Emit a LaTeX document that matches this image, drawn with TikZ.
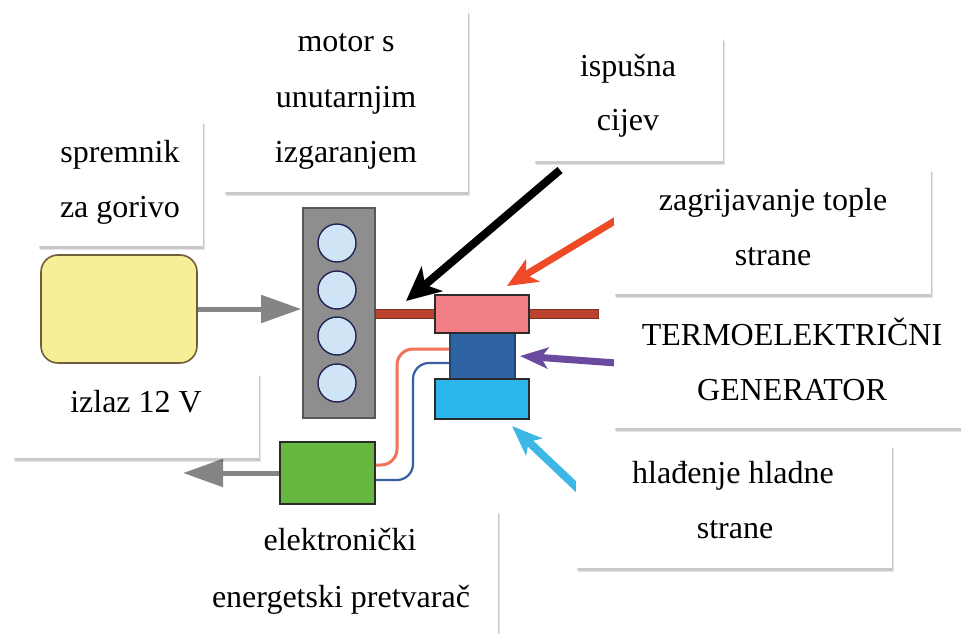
\documentclass[tikz,border=0pt]{standalone}
\usepackage{fontspec}
\setmainfont{Liberation Serif}
\newfontfamily\lblfont{Liberation Serif}
\usetikzlibrary{arrows.meta}
\definecolor{tankfill}{HTML}{F8EE98}
\definecolor{tankline}{HTML}{6E5E3A}
\definecolor{enginefill}{HTML}{8E8E8E}
\definecolor{cylfill}{HTML}{CFE5F5}
\definecolor{pipecol}{HTML}{B9432F}
\definecolor{hotfill}{HTML}{F17F85}
\definecolor{tegfill}{HTML}{2E63A2}
\definecolor{coldfill}{HTML}{2BB6EC}
\definecolor{convfill}{HTML}{67B83F}
\definecolor{flowgray}{HTML}{858585}
\definecolor{heatred}{HTML}{EF4A25}
\definecolor{tegpurple}{HTML}{6A4A9E}
\definecolor{coolblue}{HTML}{3DB7E6}
\definecolor{wirered}{HTML}{F0735A}
\definecolor{wireblue}{HTML}{3A5EA3}
\definecolor{outline}{HTML}{2B2B2B}
\tikzset{
  part/.style={rectangle, draw=outline, line width=1.6pt, inner sep=0pt},
  lbox/.style={rectangle, fill=white, draw=none, inner sep=0pt,
    preaction={fill=black, opacity=0.10, transform canvas={xshift=1.5pt,yshift=-4pt}},
    preaction={fill=black, opacity=0.12, transform canvas={xshift=1pt,yshift=-2.5pt}}},
  lbl/.style={anchor=base, inner sep=0pt, font=\lblfont\fontsize{32}{38}\selectfont},
}
\begin{document}
\begin{tikzpicture}[x=1pt,y=-1pt]
\useasboundingbox (0,0) rectangle (961,634);
\fill[white] (0,0) rectangle (961,634);
% ---- diagram parts
\node[part, fill=tankfill, draw=tankline, rounded corners=17pt, minimum width=156pt, minimum height=108pt] (tank) at (119,309) {};
\node[part, fill=enginefill, draw=black!65, minimum width=72pt, minimum height=210pt] (engine) at (339,313) {};
\foreach \i/\yy in {1/243,2/290,3/336,4/383}
  \node[circle, draw=outline!80!blue, line width=1.4pt, fill=cylfill, minimum size=38pt, inner sep=0pt] (cyl\i) at (337,\yy) {};
\node[part, fill=pipecol, draw=pipecol!70!black, line width=1pt, minimum width=223pt, minimum height=9pt] (pipe) at (486.5,313.5) {};
\node[part, fill=tegfill, draw=tegfill!70!black, minimum width=65pt, minimum height=46pt] (teg) at (482.5,356) {};
\node[part, fill=hotfill, minimum width=94pt, minimum height=38pt] (hot) at (482,314) {};
\node[part, fill=coldfill, minimum width=94pt, minimum height=40pt] (cold) at (482,399) {};
\node[part, fill=convfill, minimum width=95pt, minimum height=62pt] (conv) at (327.5,473) {};
% ---- wires
\draw[wirered, line width=3pt, rounded corners=16pt] ([yshift=7pt]teg.west) -- (397,349) -- (397,465) -- ([yshift=8pt]conv.east);
\draw[wireblue, line width=2.2pt, rounded corners=16pt] ([yshift=-7pt]teg.west) -- (413,363) -- (413,480) -- ([yshift=-7pt]conv.east);
% ---- flow arrows
\coordinate (outtip) at (183,473);
\draw[flowgray, line width=5pt, -{Triangle[length=40pt,width=27pt]}] (tank.east) -- ([xshift=-1pt]tank.east -| engine.west);
\draw[flowgray, line width=5pt, -{Triangle[length=40pt,width=27pt]}] (conv.west) -- (outtip);
\coordinate (exhtail) at (560,170);
\coordinate (exhtip) at (406,301);
\draw[black, line width=8pt, -{Stealth[length=34pt,width=32pt,inset=9pt]}] (exhtail) -- (exhtip);
\coordinate (hottail) at (618,219);
\coordinate (hottip) at (507,286);
\draw[heatred, line width=7pt, -{Stealth[length=30pt,width=26pt,inset=8pt]}] (hottail) -- (hottip);
\coordinate (tegtail) at (630,364);
\coordinate (tegtip) at (520,356);
\draw[tegpurple, line width=7pt, -{Stealth[length=28pt,width=21pt,inset=7pt]}] (tegtail) -- (tegtip);
\coordinate (coldtail) at (590,500);
\coordinate (coldtip) at (512,426);
\draw[coolblue, line width=8pt, -{Stealth[length=30pt,width=23pt,inset=7pt]}] (coldtail) -- (coldtip);
% ---- label boxes
\node[lbox, minimum width=165pt, minimum height=126pt] (tankL) at (120.5,183) {};
\node[lbox, minimum width=244pt, minimum height=182pt] (motorL) at (346,101) {};
\node[lbox, minimum width=189pt, minimum height=124pt] (exhL) at (628.5,99) {};
\node[lbox, minimum width=317pt, minimum height=126pt] (hotL) at (772.5,231) {};
\node[lbox, minimum width=349pt, minimum height=125pt] (tegL) at (788.5,365.5) {};
\node[lbox, minimum width=316pt, minimum height=124pt] (coldL) at (734,506) {};
\node[lbox, minimum width=246pt, minimum height=86pt] (outL) at (136,415) {};
\node[lbox, minimum width=316pt, minimum height=130pt] (convL) at (340,575) {};
% ---- texts
\node[lbl] (t1a) at (120,162) {spremnik};
\node[lbl] (t1b) at (120,217) {za gorivo};
\node[lbl] (t2a) at (346,52) {motor s};
\node[lbl] (t2b) at (346,107) {unutarnjim};
\node[lbl] (t2c) at (346,162) {izgaranjem};
\node[lbl] (t3a) at (628,77) {ispušna};
\node[lbl] (t3b) at (628,130) {cijev};
\node[lbl] (t4a) at (773,210) {zagrijavanje tople};
\node[lbl] (t4b) at (773,265) {strane};
\node[lbl] (t5a) at (792,345) {TERMOELEKTRIČNI};
\node[lbl] (t5b) at (792,400) {GENERATOR};
\node[lbl] (t6a) at (733,483) {hlađenje hladne};
\node[lbl] (t6b) at (735,538) {strane};
\node[lbl] (t7a) at (136,412) {izlaz 12 V};
\node[lbl] (t8a) at (340,550) {elektronički};
\node[lbl] (t8b) at (341,607) {energetski pretvarač};
\end{tikzpicture}
\end{document}
